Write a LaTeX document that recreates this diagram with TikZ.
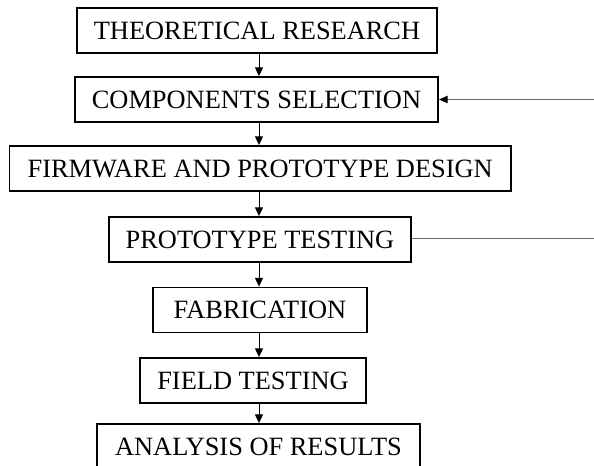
\documentclass[tikz,border=0pt]{standalone}
\usepackage{fontspec}
\setmainfont{Liberation Serif}
\usetikzlibrary{arrows.meta}
\begin{document}
\begin{tikzpicture}[x=0.75pt,y=-0.75pt,
  stagebox/.style={draw=black, line width=1.4pt, rectangle, inner sep=0pt,
    minimum height=33.75pt, font=\fontsize{19.8pt}{22pt}\selectfont, text=black},
  flowarrow/.style={line width=0.7pt, -{Triangle[length=6.5pt,width=6pt]}},
  backline/.style={line width=0.7pt, draw=black!60},
  backarrow/.style={backline, -{Triangle[length=6.5pt,width=5.5pt,color=black]}}]
\clip (0,0) rectangle (594,466);
\fill[white] (0,0) rectangle (594,466);
\node[stagebox, minimum width=270pt]    (b1) at (257,30.5)  {THEORETICAL RESEARCH};
\node[stagebox, minimum width=272.25pt] (b2) at (256.5,99.5) {COMPONENTS SELECTION};
\node[stagebox, minimum width=376.1pt]  (b3) at (260.2,168.5) {FIRMWARE AND PROTOTYPE DESIGN};
\node[stagebox, minimum width=226.5pt]  (b4) at (260,239.5) {PROTOTYPE TESTING};
\node[stagebox, minimum width=160.5pt]  (b5) at (260,310)   {FABRICATION};
\node[stagebox, minimum width=169.5pt]  (b6) at (253,380.5) {FIELD TESTING};
\node[stagebox, minimum width=242.25pt] (b7) at (258.5,446.5) {ANALYSIS OF RESULTS};
\coordinate (ax) at (259,0);
\draw[flowarrow] (b1.south -| ax) -- (b2.north -| ax);
\draw[flowarrow] (b2.south -| ax) -- (b3.north -| ax);
\draw[flowarrow] (b3.south -| ax) -- (b4.north -| ax);
\draw[flowarrow] (b4.south -| ax) -- (b5.north -| ax);
\draw[flowarrow] (b5.south -| ax) -- (b6.north -| ax);
\draw[flowarrow] (b6.south -| ax) -- (b7.north -| ax);
\coordinate (r1) at (596,99.5);
\coordinate (r2) at (596,238.5);
\draw[backarrow] (r1) -- (b2.east);
\draw[backline] (b4.east |- r2) -- (r2);
\end{tikzpicture}
\end{document}
